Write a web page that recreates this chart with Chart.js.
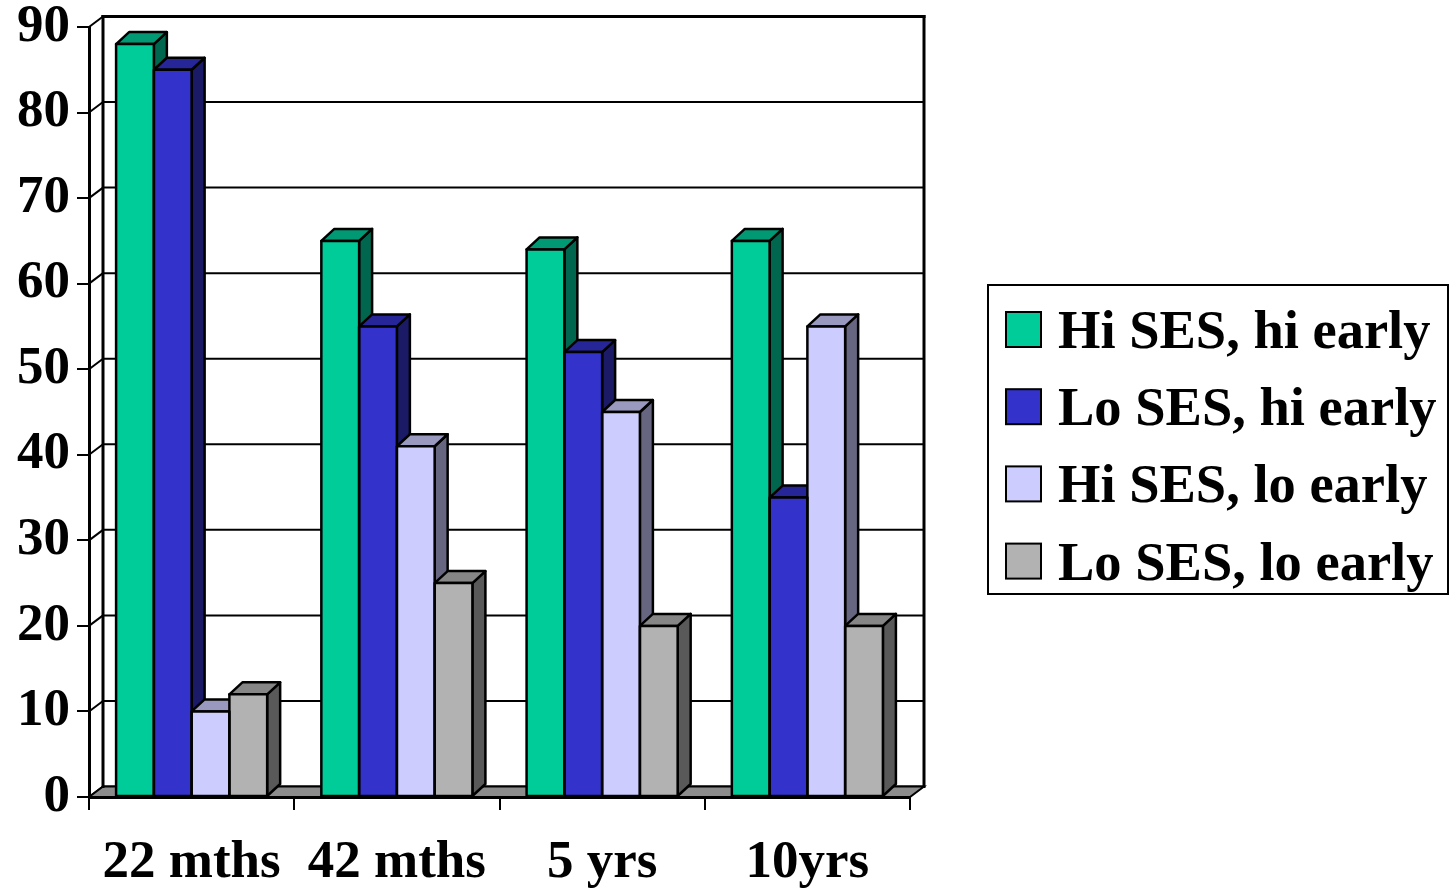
<!DOCTYPE html>
<html>
<head>
<meta charset="utf-8">
<script src="https://cdn.jsdelivr.net/npm/chart.js@4/dist/chart.umd.min.js"></script>
<style>
  html, body { margin: 0; padding: 0; background: #fff; }
  canvas { display: block; }
</style>
</head>
<body>
<canvas id="chart" width="1456" height="892"></canvas>
<script>
// Age groups on the x axis
const categories = ['22 mths', '42 mths', '5 yrs', '10yrs'];

// Series names
const seriesNames = ['Hi SES, hi early', 'Lo SES, hi early', 'Hi SES, lo early', 'Lo SES, lo early'];

// Values per series, one per age group
const hiSesHiEarly = [88, 65, 64, 65];
const loSesHiEarly = [85, 55, 52, 35];
const hiSesLoEarly = [10, 41, 45, 55];
const loSesLoEarly = [12, 25, 20, 20];

// Value axis
const yMin = 0;
const yMax = 90;
const yStep = 10;

const seriesValues = [hiSesHiEarly, loSesHiEarly, hiSesLoEarly, loSesLoEarly];
const frontColors = ['#00CC99', '#3333CC', '#CCCCFF', '#B2B2B2'];

// depth offsets of the 3-D box and of each column
const WALL_DX = 14, WALL_DY = -10.5;
const BAR_DX = 13, BAR_DY = -12;

const FONT_FAMILY = '"Liberation Serif", "Times New Roman", Times, serif';

function shade(hex, f) {
  const n = parseInt(hex.slice(1), 16);
  const r = Math.round(((n >> 16) & 255) * f);
  const g = Math.round(((n >> 8) & 255) * f);
  const b = Math.round((n & 255) * f);
  return `rgb(${r},${g},${b})`;
}

function polygon(ctx, pts, fill, stroke, lw) {
  ctx.beginPath();
  ctx.moveTo(pts[0][0], pts[0][1]);
  for (let i = 1; i < pts.length; i++) ctx.lineTo(pts[i][0], pts[i][1]);
  ctx.closePath();
  if (fill) { ctx.fillStyle = fill; ctx.fill(); }
  if (stroke) { ctx.strokeStyle = stroke; ctx.lineWidth = lw; ctx.stroke(); }
}

function line(ctx, x0, y0, x1, y1, lw) {
  ctx.beginPath();
  ctx.moveTo(x0, y0);
  ctx.lineTo(x1, y1);
  ctx.lineWidth = lw;
  ctx.strokeStyle = '#000';
  ctx.stroke();
}

// back wall, side wall and floor of the 3-D box
const boxPlugin = {
  id: 'box3d',
  beforeDraw(chart) {
    const { ctx, chartArea: a, scales: { y } } = chart;
    ctx.save();
    ctx.fillStyle = '#fff';
    ctx.fillRect(0, 0, chart.width, chart.height);

    const top = y.getPixelForValue(yMax);
    const bottom = y.getPixelForValue(yMin);
    const bl = a.left + WALL_DX, br = a.right + WALL_DX;

    // gridlines on the back wall plus diagonals on the left wall
    y.ticks.forEach(t => {
      const py = y.getPixelForValue(t.value);
      line(ctx, bl, py + WALL_DY, br, py + WALL_DY, 2);
      line(ctx, a.left, py, bl, py + WALL_DY, 2);
    });

    // floor
    polygon(ctx, [[a.left, bottom], [a.right, bottom], [br, bottom + WALL_DY], [bl, bottom + WALL_DY]],
      '#8c8c8c', '#000', 2);

    // back wall frame
    ctx.lineCap = 'square';
    line(ctx, bl, top + WALL_DY, br, top + WALL_DY, 3);
    line(ctx, bl, top + WALL_DY, bl, bottom + WALL_DY, 3);
    line(ctx, br, top + WALL_DY, br, bottom + WALL_DY, 3);
    ctx.restore();
  },
  beforeDatasetsDraw(chart) {
    // side and top faces of every column
    const ctx = chart.ctx;
    ctx.save();
    ctx.lineJoin = 'round';
    chart.data.datasets.forEach((ds, i) => {
      const meta = chart.getDatasetMeta(i);
      meta.data.forEach(bar => {
        const { x, y, base, width } = bar.getProps(['x', 'y', 'base', 'width'], true);
        const x0 = x - width / 2, x1 = x + width / 2;
        polygon(ctx, [[x1, y], [x1 + BAR_DX, y + BAR_DY], [x1 + BAR_DX, base + BAR_DY], [x1, base]],
          shade(ds.backgroundColor, 0.5), '#000', 2.5);
        polygon(ctx, [[x0, y], [x1, y], [x1 + BAR_DX, y + BAR_DY], [x0 + BAR_DX, y + BAR_DY]],
          shade(ds.backgroundColor, 0.75), '#000', 2.5);
      });
    });
    ctx.restore();
  },
  afterDatasetsDraw(chart) {
    // outlines of the front faces
    const ctx = chart.ctx;
    ctx.save();
    ctx.lineJoin = 'round';
    chart.data.datasets.forEach((ds, i) => {
      chart.getDatasetMeta(i).data.forEach(bar => {
        const { x, y, base, width } = bar.getProps(['x', 'y', 'base', 'width'], true);
        ctx.lineWidth = 2.5;
        ctx.strokeStyle = '#000';
        ctx.strokeRect(x - width / 2, y, width, base - y);
      });
    });
    ctx.restore();
  },
  afterDraw(chart) {
    // boxed legend on the right
    const ctx = chart.ctx;
    ctx.save();
    ctx.lineWidth = 2;
    ctx.strokeStyle = '#000';
    ctx.strokeRect(988, 285, 460, 309);
    ctx.font = `bold 54.5px ${FONT_FAMILY}`;
    ctx.textBaseline = 'alphabetic';
    ctx.textAlign = 'left';
    chart.data.datasets.forEach((ds, i) => {
      const rowY = 312 + i * 77.2;
      ctx.fillStyle = ds.backgroundColor;
      ctx.fillRect(1006, rowY, 35, 35);
      ctx.lineWidth = 2;
      ctx.strokeRect(1006, rowY, 35, 35);
      ctx.fillStyle = '#000';
      ctx.fillText(ds.label, 1058, rowY + 36);
    });
    ctx.restore();
  }
};

const xTickFont = { family: FONT_FAMILY, size: 53, weight: 'bold', lineHeight: 1 };
const yTickFont = { family: FONT_FAMILY, size: 53, weight: 'bold', lineHeight: 0.6 };

new Chart(document.getElementById('chart'), {
  type: 'bar',
  data: {
    labels: categories,
    datasets: seriesValues.map((vals, i) => ({
      label: seriesNames[i],
      data: vals,
      backgroundColor: frontColors[i],
      borderWidth: 0,
      categoryPercentage: 0.736,
      barPercentage: 1
    }))
  },
  options: {
    responsive: false,
    animation: false,
    events: [],
    layout: { padding: { top: 27, right: 546, left: 0, bottom: 0 } },
    plugins: { legend: { display: false }, tooltip: { enabled: false } },
    scales: {
      x: {
        grid: { offset: true, drawOnChartArea: false, drawTicks: true, tickLength: 13, color: '#000', lineWidth: 2 },
        border: { display: true, color: '#000', width: 3 },
        ticks: { color: '#000', font: xTickFont, padding: 27, maxRotation: 0, autoSkip: false },
        afterFit: s => { s.height = 95; }
      },
      y: {
        min: yMin,
        max: yMax,
        grid: { drawOnChartArea: false, drawTicks: true, tickLength: 12, color: '#000', lineWidth: 2 },
        border: { display: true, color: '#000', width: 3 },
        ticks: { stepSize: yStep, color: '#000', font: yTickFont, padding: 7 },
        afterFit: s => { s.width = 89; }
      }
    }
  },
  plugins: [boxPlugin]
});
</script>
</body>
</html>
